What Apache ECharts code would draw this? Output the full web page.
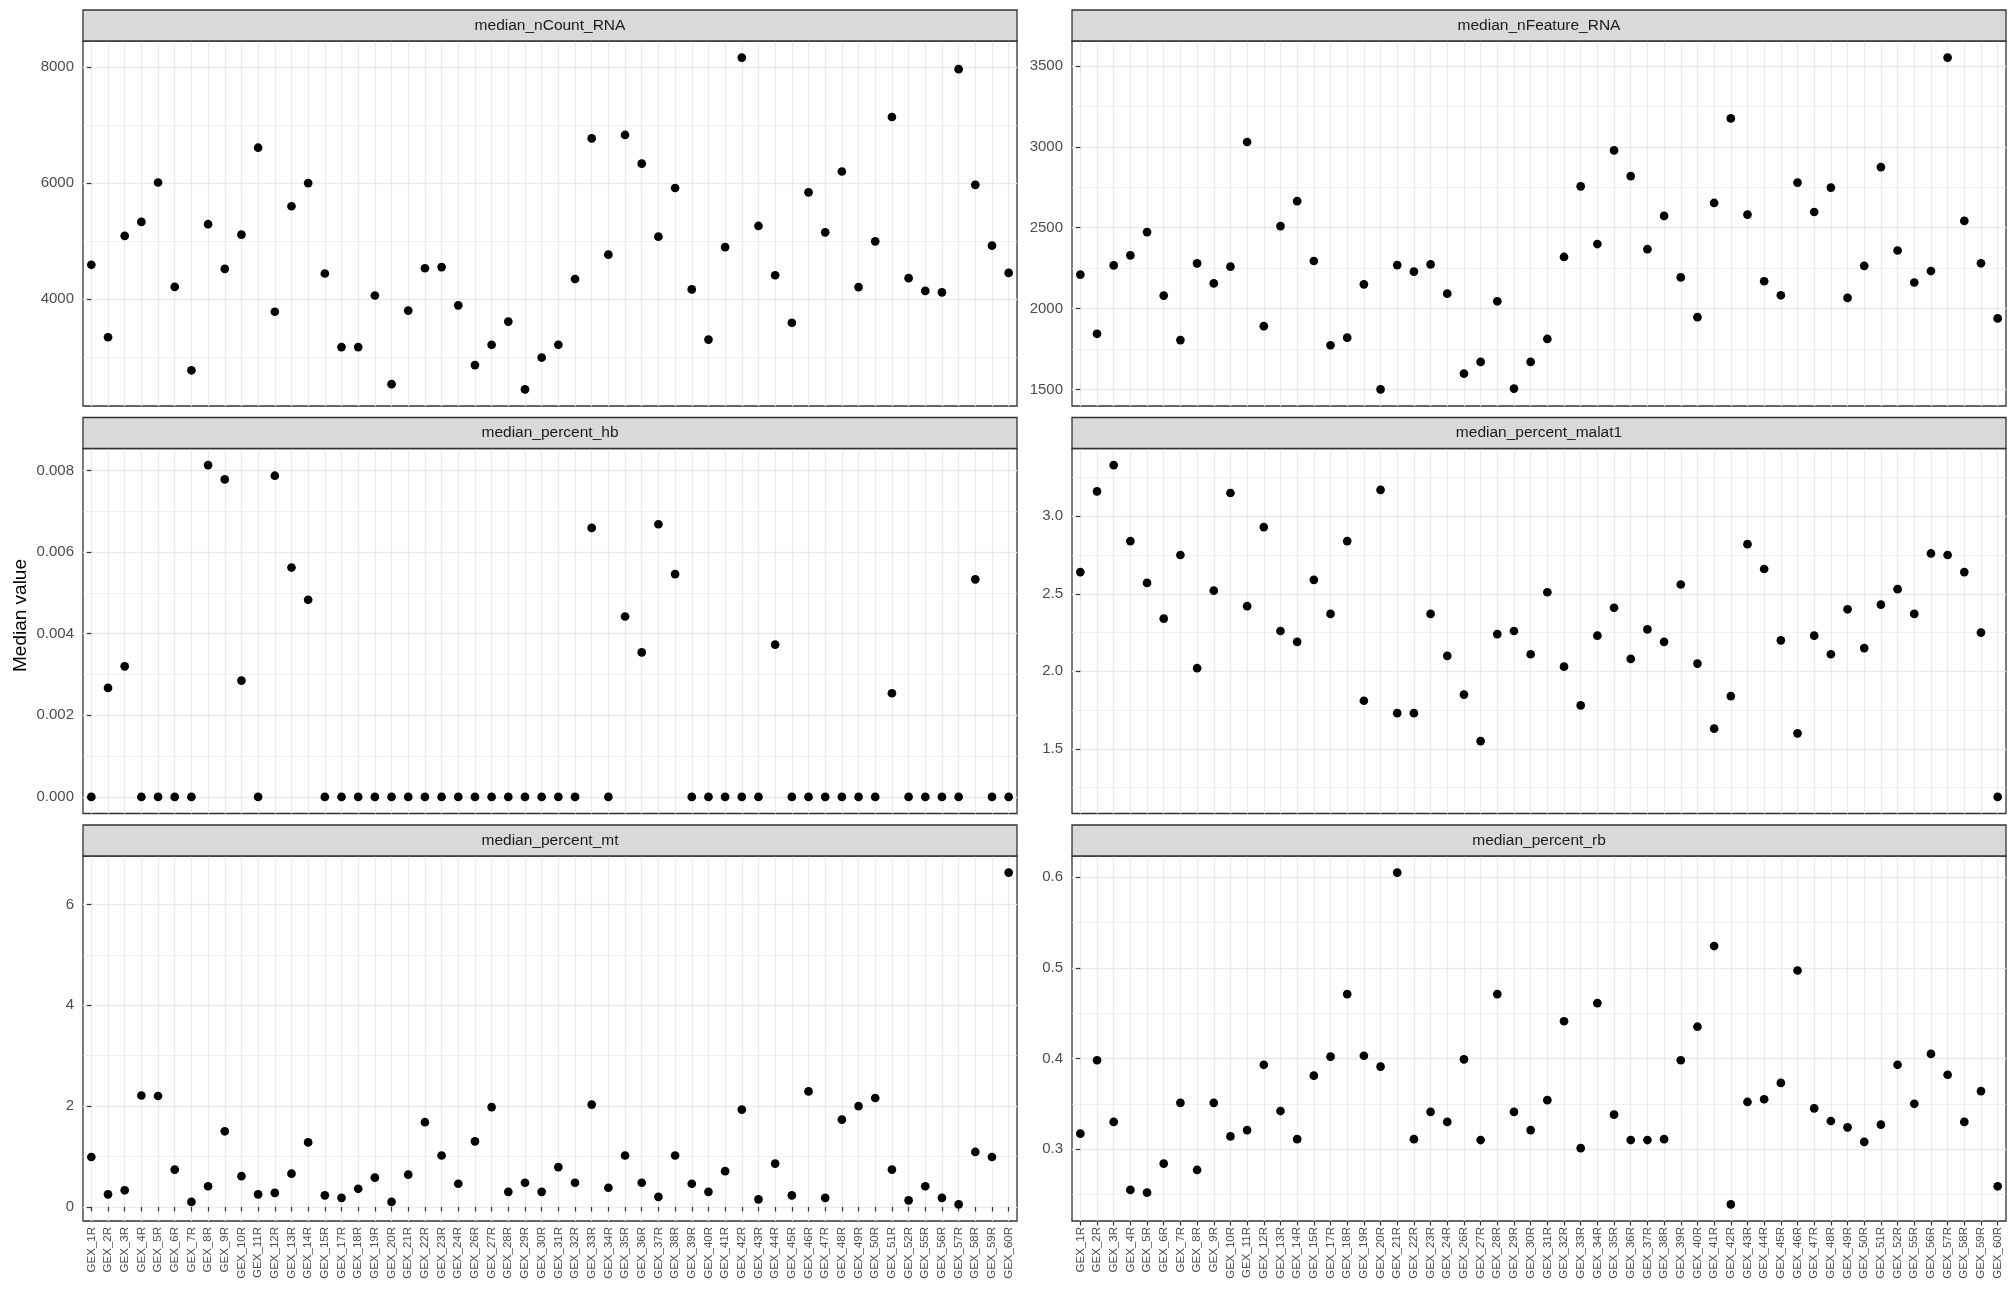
<!DOCTYPE html>
<html><head><meta charset="utf-8">
<script src="https://cdn.jsdelivr.net/npm/echarts@6/dist/echarts.min.js"></script>
<style>html,body{margin:0;padding:0;background:#fff}#c{width:2016px;height:1296px}</style>
</head><body><div id="c"></div>
<script>
// ---------- DATA ----------
const categories = ['GEX_1R','GEX_2R','GEX_3R','GEX_4R','GEX_5R','GEX_6R','GEX_7R','GEX_8R','GEX_9R','GEX_10R',
  'GEX_11R','GEX_12R','GEX_13R','GEX_14R','GEX_15R','GEX_17R','GEX_18R','GEX_19R','GEX_20R','GEX_21R',
  'GEX_22R','GEX_23R','GEX_24R','GEX_26R','GEX_27R','GEX_28R','GEX_29R','GEX_30R','GEX_31R','GEX_32R',
  'GEX_33R','GEX_34R','GEX_35R','GEX_36R','GEX_37R','GEX_38R','GEX_39R','GEX_40R','GEX_41R','GEX_42R',
  'GEX_43R','GEX_44R','GEX_45R','GEX_46R','GEX_47R','GEX_48R','GEX_49R','GEX_50R','GEX_51R','GEX_52R',
  'GEX_55R','GEX_56R','GEX_57R','GEX_58R','GEX_59R','GEX_60R'];

const medianNCountRNA = [4590,3340,5090,5330,6010,4210,2770,5290,4520,5110,
  6610,3780,5600,6000,4440,3170,3170,4060,2530,3800,
  4530,4550,3890,2860,3210,3610,2440,2990,3210,4345,
  6770,4765,6830,6335,5075,5915,4165,3300,4895,8165,
  5260,4410,3590,5840,5150,6200,4205,4995,7140,4360,
  4140,4115,7965,5970,4920,4450];

const medianNFeatureRNA = [2210,1844,2267,2329,2473,2080,1805,2279,2156,2259,
  3030,1891,2510,2664,2294,1773,1820,2150,1500,2269,
  2228,2273,2092,1598,1670,2045,1505,1670,1812,2319,
  2756,2399,2978,2819,2367,2573,2193,1947,2653,3176,
  2581,2169,2082,2779,2597,2748,2066,2264,2875,2359,
  2161,2232,3552,2542,2280,1939];

const medianPercentHb = [0,0.00267,0.0032,0,0,0,0,0.00813,0.00778,0.00285,
  0,0.00787,0.00562,0.00483,0,0,0,0,0,0,
  0,0,0,0,0,0,0,0,0,0,
  0.00659,0,0.00442,0.00354,0.00668,0.00546,0,0,0,0,
  0,0.00373,0,0,0,0,0,0,0.00254,0,
  0,0,0,0.00533,0,0];

const medianPercentMalat1 = [2.64,3.16,3.33,2.84,2.57,2.34,2.75,2.02,2.52,3.15,
  2.42,2.93,2.26,2.19,2.59,2.37,2.84,1.81,3.17,1.73,
  1.73,2.37,2.10,1.85,1.55,2.24,2.26,2.11,2.51,2.03,
  1.78,2.23,2.41,2.08,2.27,2.19,2.56,2.05,1.63,1.84,
  2.82,2.66,2.20,1.60,2.23,2.11,2.40,2.15,2.43,2.53,
  2.37,2.76,2.75,2.64,2.25,1.19];

const medianPercentMt = [0.99,0.25,0.33,2.21,2.20,0.74,0.10,0.41,1.50,0.61,
  0.25,0.28,0.66,1.28,0.23,0.18,0.36,0.58,0.10,0.64,
  1.68,1.02,0.46,1.30,1.98,0.30,0.48,0.30,0.79,0.48,
  2.03,0.38,1.02,0.48,0.20,1.02,0.46,0.30,0.71,1.93,
  0.15,0.86,0.23,2.29,0.18,1.73,2.00,2.16,0.74,0.13,
  0.41,0.18,0.05,1.09,0.99,6.63];

const medianPercentRb = [0.317,0.398,0.330,0.255,0.252,0.284,0.351,0.277,0.351,0.314,
  0.321,0.393,0.342,0.311,0.381,0.402,0.471,0.403,0.391,0.605,
  0.311,0.341,0.330,0.399,0.310,0.471,0.341,0.321,0.354,0.441,
  0.301,0.461,0.338,0.310,0.310,0.311,0.398,0.435,0.524,0.239,
  0.352,0.355,0.373,0.497,0.345,0.331,0.324,0.308,0.327,0.393,
  0.350,0.405,0.382,0.330,0.364,0.259];

const panelTitles = ['median_nCount_RNA','median_nFeature_RNA','median_percent_hb',
  'median_percent_malat1','median_percent_mt','median_percent_rb'];

const nCountTicks = [4000, 6000, 8000];
const nCountMinor = [3000, 5000, 7000];
const nFeatureTicks = [1500, 2000, 2500, 3000, 3500];
const nFeatureMinor = [1750, 2250, 2750, 3250];
const hbTicks = [0, 0.002, 0.004, 0.006, 0.008];
const hbMinor = [0.001, 0.003, 0.005, 0.007];
const malat1Ticks = [1.5, 2.0, 2.5, 3.0];
const malat1Minor = [1.25, 1.75, 2.25, 2.75, 3.25];
const mtTicks = [0, 2, 4, 6];
const mtMinor = [1, 3, 5];
const rbTicks = [0.3, 0.4, 0.5, 0.6];
const rbMinor = [0.25, 0.35, 0.45, 0.55];

const yAxisTitle = 'Median value';

// ---------- BUILD ----------
const panels = [
  {title: panelTitles[0], values: medianNCountRNA, ticks: nCountTicks, minor: nCountMinor, dec: 0},
  {title: panelTitles[1], values: medianNFeatureRNA, ticks: nFeatureTicks, minor: nFeatureMinor, dec: 0},
  {title: panelTitles[2], values: medianPercentHb, ticks: hbTicks, minor: hbMinor, dec: 3},
  {title: panelTitles[3], values: medianPercentMalat1, ticks: malat1Ticks, minor: malat1Minor, dec: 1},
  {title: panelTitles[4], values: medianPercentMt, ticks: mtTicks, minor: mtMinor, dec: 0},
  {title: panelTitles[5], values: medianPercentRb, ticks: rbTicks, minor: rbMinor, dec: 1}
];

const FONT = '"Liberation Sans", Arial, Helvetica, sans-serif';
const LEFTS = [83, 1072];
const W = 934;
const TOPS = [41, 448.5, 856];
const H = 365;
const STRIP = 31;
const GRID_C = '#EBEBEB';
const DARK = '#333333';
const catIdx = categories.map((_, k) => k);

const grids = [], xAxes = [], yAxes = [], series = [], graphics = [];
panels.forEach((p, i) => {
  const col = i % 2, row = Math.floor(i / 2);
  const bottomRow = row === 2;
  const lo = Math.min(...p.values), hi = Math.max(...p.values);
  const pad = (hi - lo) * 0.05;
  const yMin = lo - pad, yMax = hi + pad;
  grids.push({left: LEFTS[col], top: TOPS[row], width: W, height: H, show: true,
    borderColor: DARK, borderWidth: 1.3, backgroundColor: '#fff', containLabel: false});
  xAxes.push({type: 'category', gridIndex: i, data: categories, boundaryGap: true, position: 'bottom',
    axisLine: {show: false},
    axisTick: {show: bottomRow, alignWithLabel: true, length: 4.5, lineStyle: {color: DARK, width: 1.2}},
    axisLabel: {show: bottomRow, rotate: 90, interval: 0, fontSize: 11.5, color: '#4D4D4D', margin: 6, fontFamily: FONT},
    splitLine: {show: false}});
  xAxes.push({type: 'value', gridIndex: i, min: -0.5, max: categories.length - 0.5, position: 'top',
    axisLine: {show: false}, axisTick: {show: false, customValues: catIdx}, axisLabel: {show: false},
    splitLine: {show: true, lineStyle: {color: GRID_C, width: 1.3}}});
  yAxes.push({type: 'value', gridIndex: i, min: yMin, max: yMax, position: 'left',
    axisLine: {show: false},
    axisTick: {show: true, length: 4.5, customValues: p.ticks, lineStyle: {color: DARK, width: 1.2}},
    axisLabel: {customValues: p.ticks, formatter: v => Number(v).toFixed(p.dec), fontSize: 15, color: '#4D4D4D', margin: 9, fontFamily: FONT},
    splitLine: {show: true, lineStyle: {color: GRID_C, width: 1.3}}});
  yAxes.push({type: 'value', gridIndex: i, min: yMin, max: yMax, position: 'right',
    axisLine: {show: false}, axisTick: {show: false, customValues: p.minor}, axisLabel: {show: false},
    splitLine: {show: true, lineStyle: {color: GRID_C, width: 0.7}}});
  series.push({type: 'scatter', name: p.title, xAxisIndex: 2 * i, yAxisIndex: 2 * i, data: p.values,
    symbol: 'circle', symbolSize: 8.7, itemStyle: {color: '#000000', opacity: 1}, silent: true, z: 5});
  graphics.push({type: 'rect', shape: {x: LEFTS[col], y: TOPS[row] - STRIP, width: W, height: STRIP},
    style: {fill: '#D9D9D9', stroke: DARK, lineWidth: 1.3}, z: 10});
  graphics.push({type: 'text', x: LEFTS[col] + W / 2, y: TOPS[row] - STRIP / 2, z: 11,
    style: {text: p.title, fontSize: 15.5, fontFamily: FONT, fill: '#1A1A1A',
      align: 'center', verticalAlign: 'middle', textAlign: 'center', textVerticalAlign: 'middle'}});
});
graphics.push({type: 'text', x: 21, y: (TOPS[0] - STRIP + TOPS[2] + H) / 2, rotation: Math.PI / 2, z: 11,
  style: {text: yAxisTitle, fontSize: 19, fontFamily: FONT, fill: '#000000',
    align: 'center', verticalAlign: 'middle', textAlign: 'center', textVerticalAlign: 'middle'}});

const chart = echarts.init(document.getElementById('c'), null, {renderer: 'canvas'});
chart.setOption({
  animation: false,
  backgroundColor: '#ffffff',
  textStyle: {fontFamily: FONT},
  grid: grids, xAxis: xAxes, yAxis: yAxes, series: series, graphic: graphics
});
</script></body></html>
